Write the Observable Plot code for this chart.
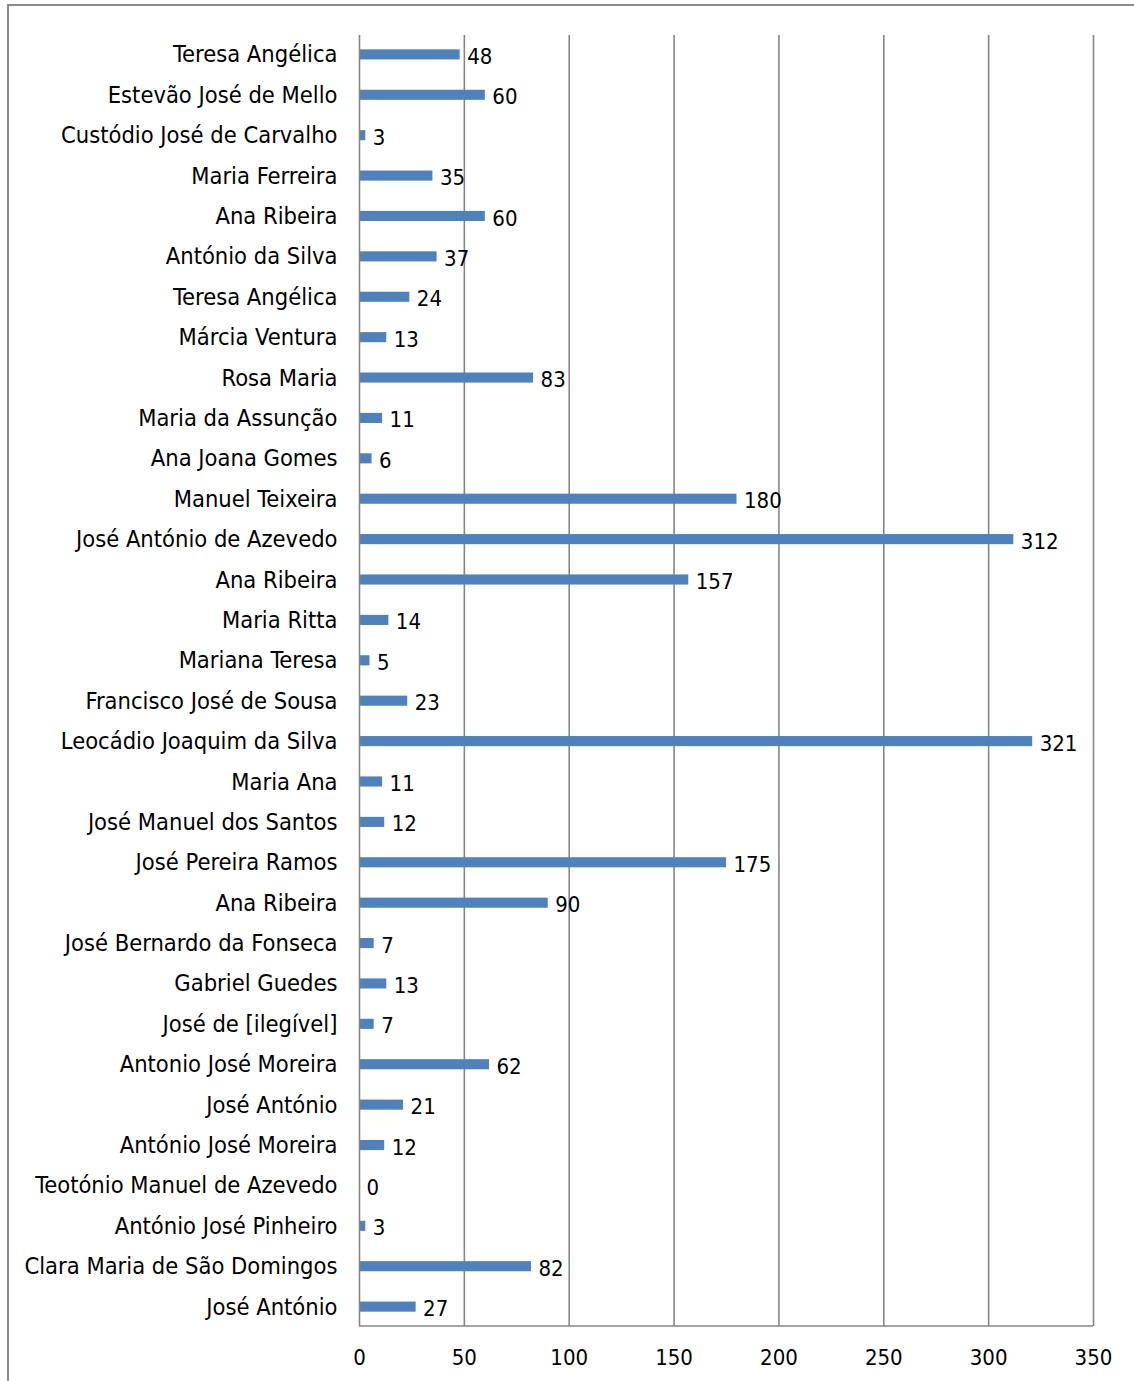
<!DOCTYPE html>
<html>
<head>
<meta charset="utf-8">
<script src="https://cdn.jsdelivr.net/npm/d3@7"></script>
<script src="https://cdn.jsdelivr.net/npm/@observablehq/plot@0.6"></script>
<style>
  html, body { margin: 0; padding: 0; background: #fff; }
  #wrap { position: relative; width: 1134px; height: 1381px; overflow: hidden; }
  #frame { position: absolute; left: 7px; top: 4px; width: 1140px; height: 1400px;
           border-top: 2px solid #8c8c8c; border-left: 2px solid #8c8c8c; box-sizing: border-box; }
  #chart { position: absolute; left: 0; top: 0; }
</style>
</head>
<body>
<div id="wrap"><div id="frame"></div><div id="chart"></div></div>
<script>
const names = [
  "Teresa Angélica", "Estevão José de Mello", "Custódio José de Carvalho", "Maria Ferreira",
  "Ana Ribeira", "António da Silva", "Teresa Angélica", "Márcia Ventura", "Rosa Maria",
  "Maria da Assunção", "Ana Joana Gomes", "Manuel Teixeira", "José António de Azevedo",
  "Ana Ribeira", "Maria Ritta", "Mariana Teresa", "Francisco José de Sousa",
  "Leocádio Joaquim da Silva", "Maria Ana", "José Manuel dos Santos", "José Pereira Ramos",
  "Ana Ribeira", "José Bernardo da Fonseca", "Gabriel Guedes", "José de [ilegível]",
  "Antonio José Moreira", "José António", "António José Moreira", "Teotónio Manuel de Azevedo",
  "António José Pinheiro", "Clara Maria de São Domingos", "José António"
];
const values = [48, 60, 3, 35, 60, 37, 24, 13, 83, 11, 6, 180, 312, 157, 14, 5, 23, 321, 11, 12, 175, 90, 7, 13, 7, 62, 21, 12, 0, 3, 82, 27];
const xTicks = [0, 50, 100, 150, 200, 250, 300, 350];

const data = names.map((n, i) => ({i, name: n, value: values[i]}));
const font = "'DejaVu Sans Condensed', 'DejaVu Sans', sans-serif";

// bottom axis line drawn through the scales
const bottomLine = (index, scales, values, dims) => {
  const g = d3.create("svg:line")
    .attr("x1", scales.x(0)).attr("x2", scales.x(350))
    .attr("y1", dims.height - dims.marginBottom).attr("y2", dims.height - dims.marginBottom)
    .attr("stroke", "#868686").attr("stroke-width", 1.6);
  return g.node();
};

const chart = Plot.plot({
  width: 1134,
  height: 1381,
  marginLeft: 359,
  marginRight: 41,
  marginTop: 35,
  marginBottom: 55,
  style: {fontFamily: font, fontSize: "23px", color: "#000", background: "transparent", overflow: "visible"},
  x: {domain: [0, 350], ticks: xTicks, label: null},
  y: {domain: d3.range(names.length), paddingInner: 0.75, paddingOuter: 0.355, round: false, label: null},
  marks: [
    Plot.ruleX(xTicks.filter(d => d > 0), {stroke: "#868686", strokeWidth: 1.6, strokeOpacity: 1}),
    Plot.barX(data, {x: "value", y: "i", fill: "#4F81BD"}),
    Plot.ruleX([0], {stroke: "#868686", strokeWidth: 1.6}),
    bottomLine,
    Plot.text(data, {x: "value", y: "i", text: d => String(d.value), textAnchor: "start", dx: 7, dy: 2,
                     fontSize: 22, fill: "#000"}),
    Plot.axisX({ticks: xTicks, tickSize: 0, tickPadding: 23, fontSize: 22}),
    Plot.axisY({tickSize: 0, tickPadding: 22, tickFormat: i => names[i], fontSize: 23.5})
  ]
});
document.getElementById("chart").appendChild(chart);
</script>
</body>
</html>
